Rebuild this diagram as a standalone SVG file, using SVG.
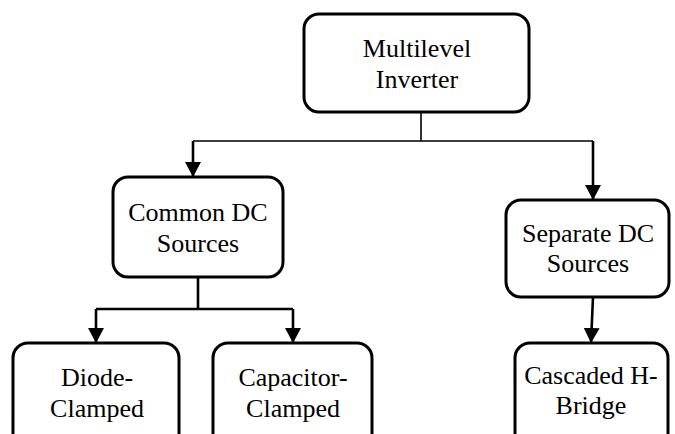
<svg xmlns="http://www.w3.org/2000/svg" width="675" height="434" viewBox="0 0 675 434">
<defs>
<marker id="arr" viewBox="0 0 15 16" refX="15" refY="8" markerWidth="15" markerHeight="16" markerUnits="userSpaceOnUse" orient="auto">
<path d="M0,0 L15,8 L0,16 z" fill="#000"/>
</marker>
<style>
.box{fill:#fff;stroke:#000;stroke-width:3}
.t{font-family:"Liberation Serif","Times New Roman",serif;font-size:26px;fill:#000;text-anchor:middle}
.thin{fill:none;stroke:#000;stroke-width:1.6}
.thick{fill:none;stroke:#000;stroke-width:2.6}
</style>
</defs>
<rect width="675" height="434" fill="#fff"/>
<g id="connectors">
<path class="thin" d="M421,112 V141 M193,141 H593"/>
<path class="thick" d="M193,141 V177" marker-end="url(#arr)"/>
<path class="thick" d="M593,141 V200" marker-end="url(#arr)"/>
<path class="thick" d="M198,277 V309 M96,309 H293"/>
<path class="thick" d="M96,309 V343" marker-end="url(#arr)"/>
<path class="thick" d="M293,309 V343" marker-end="url(#arr)"/>
<path class="thick" d="M593,297 L591,343" marker-end="url(#arr)"/>
</g>
<g id="multilevel-inverter">
<rect class="box" x="304" y="14" width="225" height="98" rx="15"/>
<text class="t" x="417" y="57">Multilevel</text>
<text class="t" x="417" y="88">Inverter</text>
</g>
<g id="common-dc">
<rect class="box" x="113" y="177" width="170" height="100" rx="15"/>
<text class="t" x="198" y="221">Common DC</text>
<text class="t" x="198" y="252">Sources</text>
</g>
<g id="separate-dc">
<rect class="box" x="506" y="200" width="163" height="97" rx="15"/>
<text class="t" x="588" y="242">Separate DC</text>
<text class="t" x="588" y="272">Sources</text>
</g>
<g id="diode-clamped">
<rect class="box" x="13" y="343" width="166" height="110" rx="15"/>
<text class="t" x="97" y="386">Diode-</text>
<text class="t" x="97" y="417">Clamped</text>
</g>
<g id="capacitor-clamped">
<rect class="box" x="213" y="343" width="159" height="110" rx="15"/>
<text class="t" x="293" y="386">Capacitor-</text>
<text class="t" x="293" y="417">Clamped</text>
</g>
<g id="cascaded-h-bridge">
<rect class="box" x="515" y="343" width="153" height="110" rx="15"/>
<text class="t" x="591" y="384">Cascaded H-</text>
<text class="t" x="591" y="414">Bridge</text>
</g>
</svg>
